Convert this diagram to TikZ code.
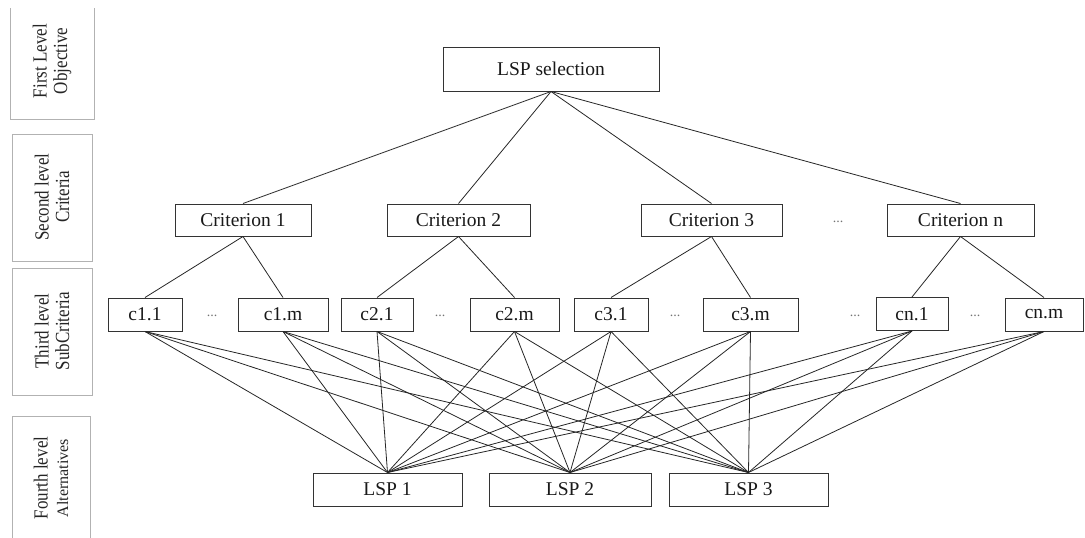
\documentclass[tikz,border=0pt]{standalone}
\usepackage{fontspec}
\setmainfont{Liberation Serif}
\newcommand{\cnd}[1]{\scalebox{0.85}[1]{#1}}
\begin{document}
\begin{tikzpicture}[x=1pt,y=-1pt,
  box/.style={draw=black!80, line width=1pt, inner sep=0pt, minimum height=33pt,
    font=\fontsize{19.5}{22}\selectfont, text=black!90},
  lvl/.style={draw=black!30, line width=1pt},
  lvltext/.style={rotate=90, align=center, inner sep=0pt,
    font=\fontsize{20}{20.5}\selectfont, text=black!85},
  link/.style={draw=black!85, line width=0.8pt},
  dots/.style={text=black!55, inner sep=0pt, font=\fontsize{14}{14}\selectfont}]
\useasboundingbox (0,0) rectangle (1085,538);

% level label boxes
\draw[lvl] (10,8) -- (10,119) -- (94,119) -- (94,8);
\draw[lvl] (12,134) rectangle (92,261);
\draw[lvl] (12,268) rectangle (92,395);
\draw[lvl] (12,540) -- (12,416) -- (90,416) -- (90,540);
\node[lvltext] (l1) at (52,61) {\cnd{First Level}\\\cnd{Objective}};
\node[lvltext] (l2) at (52,197) {\cnd{Second level}\\\cnd{Criteria}};
\node[lvltext] (l3) at (52,331) {\cnd{Third level}\\\cnd{SubCriteria}};
\node[lvltext] (l4) at (51,478) {\cnd{Fourth level}\\{\fontsize{16}{17}\selectfont Alternatives}};

% level 1
\node[box, minimum width=216pt, minimum height=44pt] (top) at (551,69) {LSP selection};

% level 2
\node[box, minimum width=136pt, minimum height=32pt] (C1) at (243,220) {Criterion 1};
\node[box, minimum width=143pt, minimum height=32pt] (C2) at (458.5,220) {Criterion 2};
\node[box, minimum width=141pt, minimum height=32pt] (C3) at (711.5,220) {Criterion 3};
\node[box, minimum width=147pt, minimum height=32pt] (Cn) at (960.5,220) {Criterion n};
\node[dots] (d0) at (838,222) {...};

% level 3
\node[box, minimum width=74pt] (s11) at (145,314.5) {c1.1};
\node[box, minimum width=90pt] (s1m) at (283,314.5) {c1.m};
\node[box, minimum width=72pt] (s21) at (377,314.5) {c2.1};
\node[box, minimum width=89pt] (s2m) at (514.5,314.5) {c2.m};
\node[box, minimum width=74pt] (s31) at (611,314.5) {c3.1};
\node[box, minimum width=95pt] (s3m) at (750.5,314.5) {c3.m};
\node[box, minimum width=72pt] (sn1) at (912,314) {cn.1};
\node[box, minimum width=78pt] (snm) at (1044,314.5) {cn.m};
\node[dots] (d1) at (212,316) {...};
\node[dots] (d2) at (440,316) {...};
\node[dots] (d3) at (675,316) {...};
\node[dots] (d4) at (855,316) {...};
\node[dots] (d5) at (975,316) {...};

% level 4
\node[box, minimum width=149pt] (A1) at (387.5,489.5) {LSP 1};
\node[box, minimum width=162pt] (A2) at (570,489.5) {LSP 2};
\node[box, minimum width=159pt] (A3) at (748.5,489.5) {LSP 3};

% connectors
\foreach \c in {C1,C2,C3,Cn} \draw[link] (top.south) -- (\c.north);
\foreach \c/\s in {C1/s11,C1/s1m,C2/s21,C2/s2m,C3/s31,C3/s3m,Cn/sn1,Cn/snm}
  \draw[link] (\c.south) -- (\s.north);
\foreach \s in {s11,s1m,s21,s2m,s31,s3m,sn1,snm}
  \foreach \a in {A1,A2,A3}
    \draw[link] (\s.south) -- (\a.north);
\end{tikzpicture}
\end{document}
